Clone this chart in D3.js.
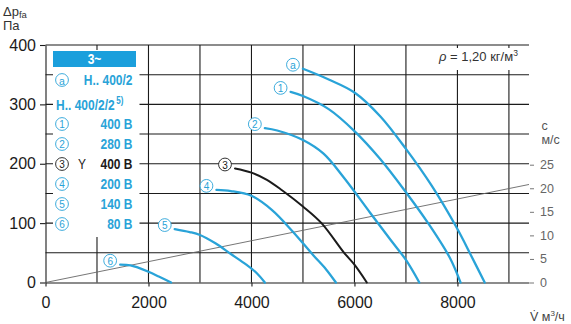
<!DOCTYPE html>
<html>
<head>
<meta charset="utf-8">
<script src="https://cdn.jsdelivr.net/npm/d3@7"></script>
<style>
  html, body { margin: 0; padding: 0; background: #fff; }
  svg { display: block; font-family: "Liberation Sans", Arial, sans-serif; }
</style>
</head>
<body>
<svg id="chart" width="571" height="324"></svg>
<script>
// Axis ticks
const flowTicks = [0, 2000, 4000, 6000, 8000];          // V, m³/h
const pressureTicks = [0, 100, 200, 300, 400];          // Δp_fa, Pa
const velocityTicks = [0, 5, 10, 15, 20, 25];           // c, m/s

// Fan curves [flow m³/h, pressure Pa]
const curveA = [[5000, 360], [5500, 342], [6000, 320], [6500, 280], [7000, 225], [7500, 163], [8000, 90], [8250, 48], [8530, 0]];
const curve1 = [[4760, 321], [5000, 314], [5500, 292], [6000, 255], [6500, 208], [7000, 152], [7430, 100], [7850, 42], [8060, 0]];
const curve2 = [[4260, 260], [4500, 256], [5000, 240], [5400, 217], [5800, 176], [6300, 118], [6700, 72], [7000, 38], [7260, 0]];
const curve3 = [[3680, 192], [4000, 185], [4300, 173], [4600, 155], [5000, 128], [5360, 100], [5800, 50], [6000, 30], [6240, 0]];
const curve4 = [[3320, 156], [3600, 154], [4000, 146], [4400, 122], [4800, 86], [5200, 46], [5450, 22], [5640, 0]];
const curve5 = [[2510, 90], [2800, 85], [3000, 80], [3300, 66], [3600, 48], [3900, 30], [4100, 16], [4260, 0]];
const curve6 = [[1450, 30], [1650, 29], [1800, 25], [2000, 18], [2200, 10], [2440, 0]];

// Duct velocity line [flow m³/h, velocity m/s]
const velocityLine = [[0, 0], [9390, 20.8]];

// Curve marks and legend entries
const curveMarks = ["a", "1", "2", "3", "4", "5", "6"];
const curveSeries = [curveA, curve1, curve2, curve3, curve4, curve5, curve6];
const legendMarks = ["a", "", "1", "2", "3", "4", "5", "6"];
const legendTexts = ["H.. 400/2", "H.. 400/2/2", "400 В", "280 В", "400 В", "200 В", "140 В", "80 В"];

const BLUE = "#29a3d8";
const HEAD = "#1b9fdc";
const INK = "#1b1b1b";
const NARROW = 0.8; // horizontal squeeze for the condensed legend lettering

const svg = d3.select("#chart");
const xMax = 9390;
const x = d3.scaleLinear().domain([0, xMax]).range([45.5, 529]);
const y = d3.scaleLinear().domain([0, 400]).range([282.5, 45]);
const yV = d3.scaleLinear().domain([0, 50.4]).range([282.5, 45]);

// Grid
const grid = svg.append("g").attr("stroke", INK).attr("stroke-width", 1.1);
grid.selectAll(".gv").data(d3.range(1000, xMax, 1000)).join("line")
  .attr("class", "gv")
  .attr("x1", d => x(d)).attr("x2", d => x(d))
  .attr("y1", y(0)).attr("y2", y(400));
grid.selectAll(".gh").data(d3.range(50, 401, 50)).join("line")
  .attr("class", "gh")
  .attr("x1", x(0)).attr("x2", x(xMax))
  .attr("y1", d => y(d)).attr("y2", d => y(d));

// Left axis
const axL = svg.append("g").attr("transform", `translate(${x(0)},0)`)
  .call(d3.axisLeft(y).tickValues(pressureTicks).tickSize(5.5).tickSizeOuter(0).tickPadding(4));
axL.selectAll("text").attr("font-size", 16).attr("fill", INK)
  .attr("font-family", "Liberation Sans, Arial, sans-serif");

// Bottom axis
const axB = svg.append("g").attr("transform", `translate(0,${y(0)})`)
  .call(d3.axisBottom(x).tickValues(flowTicks).tickFormat(d3.format("d")).tickSize(4).tickSizeOuter(0).tickPadding(10));
axB.selectAll("text").attr("font-size", 16).attr("fill", INK)
  .attr("font-family", "Liberation Sans, Arial, sans-serif");

[axL, axB].forEach(a => {
  a.selectAll("line").attr("stroke", INK).attr("stroke-width", 1.1);
  a.select(".domain").attr("stroke", INK).attr("stroke-width", 1.1);
});

// Right velocity axis
const axR = svg.append("g").attr("transform", `translate(${x(xMax) + 1},0)`)
  .call(d3.axisRight(yV).tickValues(velocityTicks).tickSize(4).tickPadding(6));
axR.select(".domain").remove();
axR.selectAll("line").attr("stroke", "#666").attr("stroke-width", 0.9);
axR.selectAll("text").attr("font-size", 12.5).attr("fill", "#666")
  .attr("font-family", "Liberation Sans, Arial, sans-serif");

// Axis titles
const yTitle = svg.append("text").attr("x", 3).attr("y", 16).attr("font-size", 13).attr("fill", "#333");
yTitle.append("tspan").text("Δp");
yTitle.append("tspan").attr("font-size", 9.5).attr("dy", 2).text("fa");
svg.append("text").attr("x", 3).attr("y", 29.5).attr("font-size", 13).attr("fill", "#333").text("Па");

svg.append("text").attr("x", 541.5).attr("y", 129.5).attr("font-size", 12.5).attr("fill", "#555").text("с");
svg.append("text").attr("x", 541.5).attr("y", 143.5).attr("font-size", 12.5).attr("fill", "#555").text("м/с");

const xTitle = svg.append("text").attr("x", 530).attr("y", 321).attr("font-size", 12.5).attr("fill", "#444");
xTitle.append("tspan").text("V\u0307 м");
xTitle.append("tspan").attr("font-size", 8).attr("dy", -5).text("3");
xTitle.append("tspan").attr("dy", 5).text("/ч");

// Air density note
svg.append("rect").attr("x", 436).attr("y", 48).attr("width", 92).attr("height", 22).attr("fill", "#fff");
const rho = svg.append("text").attr("x", 439).attr("y", 61).attr("font-size", 13).attr("fill", "#333");
rho.append("tspan").attr("font-style", "italic").text("ρ");
rho.append("tspan").text(" = 1,20 кг/м");
rho.append("tspan").attr("font-size", 8.5).attr("dy", -5).text("3");

// Velocity line
svg.append("path")
  .datum(velocityLine)
  .attr("fill", "none").attr("stroke", "#666").attr("stroke-width", 0.9)
  .attr("d", d3.line().x(d => x(d[0])).y(d => yV(d[1])));

// Fan curves
const curveLine = d3.line().x(d => x(d[0])).y(d => y(d[1])).curve(d3.curveCatmullRom.alpha(0.5));
const colorOf = m => (m === "3" ? INK : BLUE);

svg.append("g").selectAll("path").data(curveSeries).join("path")
  .attr("fill", "none")
  .attr("stroke", (d, i) => colorOf(curveMarks[i]))
  .attr("stroke-width", (d, i) => (curveMarks[i] === "3" ? 2 : 2.3))
  .attr("stroke-linecap", "round")
  .attr("d", curveLine);

function circledMark(g, cx, cy, mark) {
  const c = colorOf(mark);
  g.append("circle").attr("cx", cx).attr("cy", cy).attr("r", 6.4)
    .attr("fill", "#fff").attr("stroke", c).attr("stroke-width", 0.9);
  g.append("text").attr("x", cx).attr("y", cy + 0.5)
    .attr("text-anchor", "middle").attr("dominant-baseline", "central")
    .attr("font-size", mark === "a" ? 10.5 : 10).attr("fill", c).text(mark);
}

const markLayer = svg.append("g");
curveSeries.forEach((s, i) => {
  circledMark(markLayer, x(s[0][0]) - 10, y(s[0][1]) - 4, curveMarks[i]);
});

// Legend
function narrowText(g, px, py, anchor) {
  return g.append("text")
    .attr("transform", `translate(${px},${py}) scale(${NARROW},1)`)
    .attr("text-anchor", anchor).attr("dominant-baseline", "central")
    .attr("font-family", "Liberation Sans, Arial, sans-serif")
    .attr("font-size", 15);
}

const lg = svg.append("g");
lg.append("rect").attr("x", 53).attr("y", 50).attr("width", 86.5).attr("height", 187).attr("fill", "#fff");
lg.append("rect").attr("x", 53).attr("y", 51).attr("width", 83).attr("height", 16).attr("fill", HEAD);
narrowText(lg, 94.5, 59.5, "middle").attr("font-weight", "bold").attr("fill", "#fff").text("3~");

legendTexts.forEach((t, i) => {
  const ry = i === 0 ? 80 : 104 + (i - 1) * 20;
  const m = legendMarks[i];
  const col = m === "3" ? INK : BLUE;
  if (m) {
    circledMark(lg, 62, ry, m);
    narrowText(lg, 132.5, ry, "end").attr("font-weight", "bold").attr("fill", col).text(t);
    if (m === "3") {
      narrowText(lg, 82, ry, "middle").attr("fill", INK).text("Y");
    }
  } else {
    const tx = narrowText(lg, 56, ry, "start").attr("font-weight", "bold").attr("fill", col);
    tx.append("tspan").text(t);
    tx.append("tspan").attr("dx", 2).attr("dy", -3).attr("font-size", 10).text("5)");
  }
});
</script>
</body>
</html>
